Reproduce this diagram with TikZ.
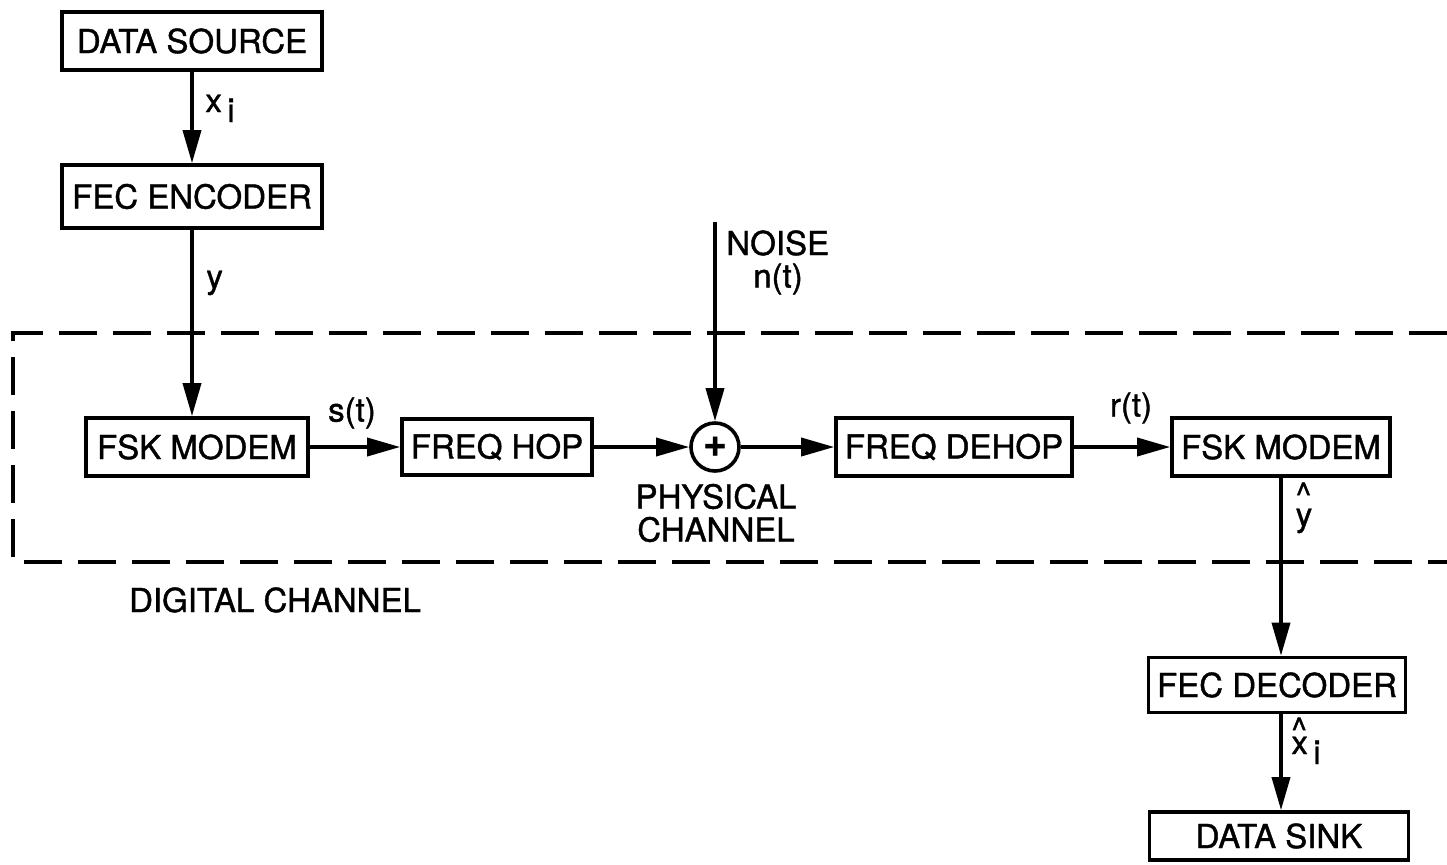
\documentclass[tikz,border=0pt]{standalone}
\usepackage{fontspec}
\setmainfont{TeX Gyre Heros}[FakeBold=1.2]
\usetikzlibrary{arrows.meta,calc}
\begin{document}
\begin{tikzpicture}[x=0.5pt,y=-0.5pt,
  box/.style={draw,line width=1.8pt,inner sep=0pt,font=\fontsize{16.5}{19}\selectfont},
  lbl/.style={inner sep=0pt,font=\fontsize{16.5}{19}\selectfont},
  arr/.style={line width=1.8pt,-{Triangle[length=16.5pt,width=9pt]}},
  dashbox/.style={line width=1.8pt,dash pattern=on 19pt off 8pt}]
\useasboundingbox (0,0) rectangle (1447,864);

% boxes
\node[box,minimum width=130pt,minimum height=29pt] (src) at (192,41) {DATA SOURCE};
\node[box,minimum width=130pt,minimum height=31.5pt] (enc) at (192,196.5) {FEC ENCODER};
\node[box,minimum width=111pt,minimum height=29pt] (fskL) at (197,447) {FSK MODEM};
\node[box,minimum width=95pt,minimum height=28pt] (hop) at (497,447) {FREQ HOP};
\node[draw,circle,line width=1.8pt,minimum size=24pt,inner sep=0pt,font=\fontsize{20}{20}\selectfont\bfseries] (sum) at (715,447) {\raisebox{0.5pt}{+}};
\node[box,minimum width=118pt,minimum height=29pt] (dehop) at (954,447) {FREQ DEHOP};
\node[box,minimum width=109pt,minimum height=29pt] (fskR) at (1281,447) {FSK MODEM};
\node[box,minimum width=128.5pt,minimum height=27.5pt] (dec) at (1277,685) {FEC DECODER};
\node[box,minimum width=129.5pt,minimum height=24pt] (sink) at (1279,836) {DATA SINK};

% digital channel dashed frame
\draw[dashbox] (1447,333) -- (13,333) -- (13,562) -- (1447,562);

% connectors
\coordinate (noisetop) at (715,222);
\draw[arr] (src) -- (enc);
\draw[arr] (enc.south) -- (enc.south |- fskL.north);
\draw[arr] (fskL) -- (hop);
\draw[arr] (hop) -- (sum);
\draw[arr] (noisetop) -- (sum);
\draw[arr] (sum) -- (dehop);
\draw[arr] (dehop) -- (fskR);
\draw[arr] (fskR.south) -- (fskR.south |- dec.north);
\draw[arr] (fskR.south |- dec.south) -- (fskR.south |- sink.north);

% labels
\node[lbl,anchor=base west] (lxi) at (205,112) {x\,\raisebox{-5pt}{i}};
\node[lbl,anchor=base west] (ly) at (206,288) {y};
\node[lbl] (lst) at (352,413) {s(t)};
\node[lbl,anchor=west] (lnoise) at (726,243) {NOISE};
\node[lbl] (lnt) at (778,279) {n(t)};
\node[lbl,align=center,font=\fontsize{16.5}{16.5}\selectfont] (lphys) at (716,513) {PHYSICAL\\CHANNEL};
\node[lbl] (lrt) at (1131,408) {r(t)};
\node[lbl,anchor=base] (lyhat) at (1304,526) {\makebox[0pt][l]{\raisebox{10pt}{\^{}}}y};
\node[lbl,anchor=base west] (lxhat) at (1291,754) {\makebox[0pt][l]{\raisebox{6.5pt}{\^{}}}x\,\raisebox{-5pt}{i}};
\node[lbl] (ldig) at (275,600) {DIGITAL CHANNEL};
\end{tikzpicture}
\end{document}
